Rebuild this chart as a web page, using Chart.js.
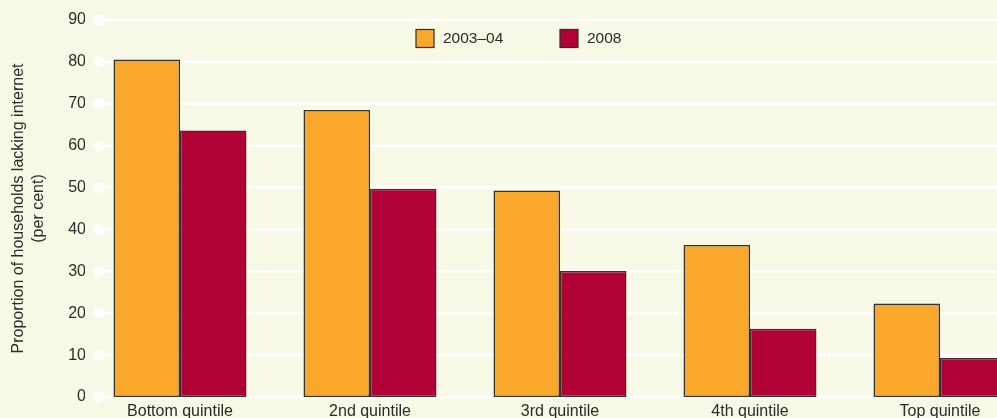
<!DOCTYPE html>
<html>
<head>
<meta charset="utf-8">
<script src="https://cdn.jsdelivr.net/npm/chart.js@4/dist/chart.umd.min.js"></script>
<style>
html,body{margin:0;padding:0;background:#F7F8E5;overflow:hidden;}
#wrap{width:997px;height:418px;overflow:hidden;position:relative;}
#c{position:absolute;left:0;top:0;}
</style>
</head>
<body>
<div id="wrap"><canvas id="c" width="1040" height="418" style="width:1040px;height:418px"></canvas></div>
<script>
const categories = ['Bottom quintile', '2nd quintile', '3rd quintile', '4th quintile', 'Top quintile'];
const series2003 = [80.6, 68.5, 49.3, 36.3, 22.3];
const series2008 = [63.6, 49.7, 30.1, 16.3, 9.3];
const seriesLabels = ['2003\u201304', '2008'];
const yTicks = [0, 10, 20, 30, 40, 50, 60, 70, 80, 90];
const yTitle = ['Proportion of households lacking internet', '(per cent)'];

const FONT = '"Liberation Sans", Arial, Helvetica, sans-serif';
const TEXT = '#2b2b2b';

const gridPlugin = {
  id: 'gridDots',
  beforeDatasetsDraw(chart) {
    const ctx = chart.ctx, y = chart.scales.y;
    ctx.save();
    ctx.strokeStyle = '#ffffff';
    ctx.fillStyle = '#ffffff';
    ctx.lineWidth = 2.5;
    yTicks.forEach(v => {
      const py = y.getPixelForValue(v);
      ctx.beginPath();
      ctx.moveTo(99, py);
      ctx.lineTo(chart.width, py);
      ctx.stroke();
      ctx.beginPath();
      ctx.arc(99, py, 5.5, 0, Math.PI * 2);
      ctx.fill();
    });
    ctx.restore();
  }
};

const legendPlugin = {
  id: 'customLegend',
  afterDraw(chart) {
    const ctx = chart.ctx;
    const xs = [416, 560];
    ctx.save();
    chart.data.datasets.forEach((ds, i) => {
      ctx.fillStyle = ds.backgroundColor;
      ctx.strokeStyle = '#2e2e2e';
      ctx.lineWidth = 1.2;
      ctx.fillRect(xs[i], 29.5, 18, 18);
      ctx.strokeRect(xs[i], 29.5, 18, 18);
      ctx.fillStyle = TEXT;
      ctx.font = '15.5px ' + FONT;
      ctx.textBaseline = 'middle';
      ctx.textAlign = 'left';
      ctx.fillText(ds.label, xs[i] + 27, 39);
    });
    ctx.restore();
  }
};

new Chart(document.getElementById('c'), {
  type: 'bar',
  data: {
    labels: categories,
    datasets: [
      { label: seriesLabels[0], data: series2003, backgroundColor: '#FAA82C', borderColor: '#333333', borderWidth: 1.5, borderSkipped: false },
      { label: seriesLabels[1], data: series2008, backgroundColor: '#B10236', borderColor: '#333333', borderWidth: 1.5, borderSkipped: false }
    ]
  },
  options: {
    responsive: false,
    animation: false,
    devicePixelRatio: 1,
    layout: { padding: { top: 20, right: 5, left: 0, bottom: 0 } },
    plugins: { legend: { display: false }, tooltip: { enabled: false } },
    datasets: { bar: { categoryPercentage: 0.7, barPercentage: 1.0 } },
    scales: {
      x: {
        grid: { display: false, drawTicks: false },
        border: { display: false },
        ticks: { color: TEXT, font: { family: FONT, size: 16 }, padding: 5, maxRotation: 0, autoSkip: false },
        afterFit(s) { s.height = 21; }
      },
      y: {
        min: 0, max: 90,
        afterBuildTicks(s) { s.ticks = yTicks.map(v => ({ value: v })); },
        grid: { display: false, drawTicks: false },
        border: { display: false },
        ticks: { color: TEXT, font: { family: FONT, size: 16 }, padding: -1 },
        title: { display: true, text: yTitle, color: TEXT, font: { family: FONT, size: 16, lineHeight: 1.25 }, padding: { top: 9, bottom: 0 } },
        afterFit(s) { s.width = 85; }
      }
    }
  },
  plugins: [gridPlugin, legendPlugin]
});
</script>
</body>
</html>
